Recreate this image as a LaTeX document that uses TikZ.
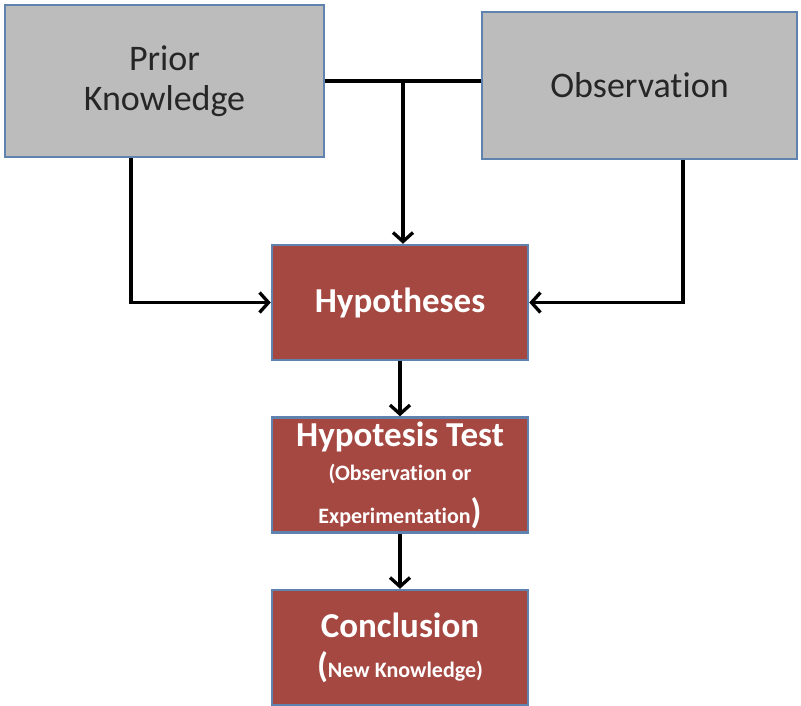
\documentclass[tikz,border=0pt]{standalone}
\usepackage{fontspec}
\setmainfont{Carlito}[Ligatures=NoCommon]
\usetikzlibrary{arrows.meta,positioning}

\definecolor{boxgray}{RGB}{188,188,188}
\definecolor{boxred}{RGB}{166,72,66}
\definecolor{boxedge}{RGB}{95,130,175}

\newcommand{\subtxt}{\fontsize{22}{26}\selectfont}
\newcommand{\bigtxt}{\fontsize{35}{40}\selectfont}

\begin{document}
\begin{tikzpicture}[
    x=1pt, y=-1pt,
    node distance=55pt,
    greybox/.style={draw=boxedge, line width=2.5pt, fill=boxgray, text=black!85, align=center, font=\fontsize{36}{40}\selectfont},
    redbox/.style={draw=boxedge, line width=2.5pt, fill=boxred, text=white, minimum width=256pt, minimum height=115pt, align=center, font=\bfseries\fontsize{35}{40}\selectfont},
    line/.style={draw=black, line width=3.3pt},
    arrow/.style={line, -{Straight Barb[length=9pt,width=20pt]}}
]
    \useasboundingbox (0,0) rectangle (801,705);

    % Boksene oppe
    \node [greybox, minimum width=319pt, minimum height=152pt] (prior) at (164.5,81) {Prior\\Knowledge};
    \node [greybox, minimum width=315pt, minimum height=147pt] (obs) at (639.5,85.5) {Observation};

    % Boksene i midten (ovenfra og ned)
    \node [redbox] (hyp) at (400,302.5) {Hypotheses};
    \node [redbox, below=of hyp] (test) {Hypotesis Test\\[-6pt]{\subtxt (Observation or}\\[3pt]{\subtxt Experimentation}\bigtxt)};
    \node [redbox, below=of test] (concl) {Conclusion\\[0pt]\bigtxt({\subtxt New Knowledge)}};

    % Linjene og pilene
    \draw [line] (prior.east) -- (prior.east -| obs.west);
    \draw [arrow] ([xshift=3pt]prior.east -| hyp.north) -- ([xshift=3pt]hyp.north);
    \draw [arrow] ([xshift=-33.5pt]prior.south) |- (hyp.west);
    \draw [arrow] ([xshift=43.5pt]obs.south) |- (hyp.east);
    \draw [arrow] (hyp) -- (test);
    \draw [arrow] (test) -- (concl);

\end{tikzpicture}
\end{document}
